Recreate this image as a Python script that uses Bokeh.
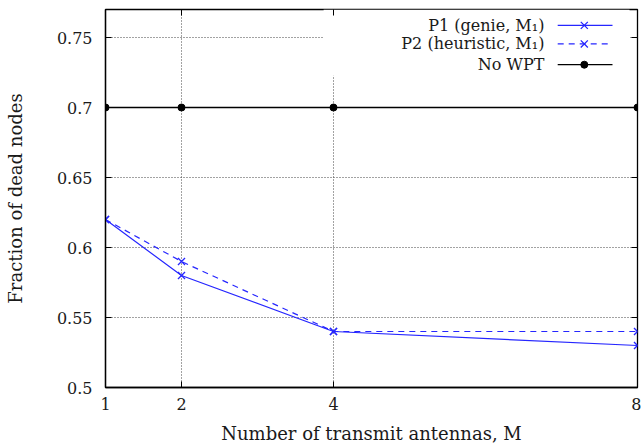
from bokeh.plotting import figure
from bokeh.models import Range1d, FixedTicker, LinearAxis
from bokeh.embed import file_html
from bokeh.resources import INLINE
from bokeh.core.properties import value

# ---- data ----
antennas = [1, 2, 4, 8]
p1_genie = [0.62, 0.58, 0.54, 0.53]
p2_heuristic = [0.62, 0.59, 0.54, 0.54]
no_wpt = [0.70, 0.70, 0.70, 0.70]

x_ticks = [1, 2, 4, 8]
x_tick_labels = ["1", "2", "4", "8"]
y_ticks = [0.5, 0.55, 0.6, 0.65, 0.7, 0.75]
y_tick_labels = ["0.5", "0.55", "0.6", "0.65", "0.7", "0.75"]
legend_labels = ["P1 (genie, M\u2081)", "P2 (heuristic, M\u2081)", "No WPT"]

FONT = "DejaVu Serif"
BLUE = "#2626ff"
TXT = "#1a1a1a"

p = figure(width=641, height=447, x_range=Range1d(1, 8), y_range=Range1d(0.5, 0.77),
           output_backend="svg", toolbar_location=None,
           min_border_left=105, min_border_right=4, min_border_top=9, min_border_bottom=60)

p.background_fill_color = "white"
p.border_fill_color = "white"
p.outline_line_color = "black"
p.outline_line_width = 1.3

for ax in (p.xaxis, p.yaxis):
    ax.axis_line_color = "black"
    ax.axis_line_width = 1.3
    ax.major_tick_in = 6
    ax.major_tick_out = 0
    ax.major_tick_line_color = "black"
    ax.minor_tick_line_color = None
    ax.major_label_text_font = FONT
    ax.major_label_text_font_size = "16px"
    ax.major_label_text_color = TXT
    ax.axis_label_text_font = FONT
    ax.axis_label_text_font_style = "normal"
    ax.axis_label_text_font_size = "18px"
    ax.axis_label_text_color = TXT

p.xaxis.ticker = FixedTicker(ticks=x_ticks)
p.xaxis.major_label_overrides = dict(zip(x_ticks, x_tick_labels))
p.yaxis.ticker = FixedTicker(ticks=y_ticks)
p.yaxis.major_label_overrides = dict(zip(y_ticks, y_tick_labels))
p.xaxis.axis_label = "Number of transmit antennas, M"
p.yaxis.axis_label = "Fraction of dead nodes"
p.xaxis.major_label_standoff = 10
p.xaxis.axis_label_standoff = 10
p.yaxis.major_label_standoff = 13
p.yaxis.axis_label_standoff = 28

# mirrored inward ticks on the top and right edges (no labels)
for side, ticks in (("above", x_ticks), ("right", y_ticks)):
    mirror = LinearAxis(ticker=FixedTicker(ticks=ticks),
                        major_label_overrides={t: "" for t in ticks},
                        major_label_text_font_size="0px", major_label_standoff=0,
                        axis_line_color=None, major_tick_in=6, major_tick_out=0,
                        major_tick_line_color="black", minor_tick_line_color=None)
    p.add_layout(mirror, side)

for g in (p.xgrid, p.ygrid):
    g.grid_line_color = "#444444"
    g.grid_line_dash = "1 2"
    g.grid_line_width = 1

# frame-fraction ranges for the legend layout (0..1 across, 0 at top)
p.extra_x_ranges = {"fx": Range1d(0, 1)}
p.extra_y_ranges = {"fy": Range1d(1, 0)}

# legend background box (opaque, covers grid)
p.quad(left=[0.41], right=[0.985], top=[0.0], bottom=[0.175], fill_color="white",
       line_color=None, x_range_name="fx", y_range_name="fy")

# data series
p.line(antennas, no_wpt, line_color="black", line_width=1.3)
p.scatter(antennas, no_wpt, marker="circle", size=7, fill_color="black", line_color="black")

p.line(antennas, p2_heuristic, line_color=BLUE, line_width=1.2, line_dash="6 5")
p.scatter(antennas, p2_heuristic, marker="x", size=10, line_color=BLUE, line_width=1.3)

p.line(antennas, p1_genie, line_color=BLUE, line_width=1.2)
p.scatter(antennas, p1_genie, marker="x", size=10, line_color=BLUE, line_width=1.3)

# legend
rows = [0.042, 0.091, 0.146]
lx0, lx1, lxm, ltx = 0.850, 0.953, 0.900, 0.825
p.text(x=[ltx] * 3, y=rows, text=legend_labels, x_range_name="fx", y_range_name="fy",
       text_align="right", text_baseline="middle", text_font=value(FONT),
       text_font_size="16px", text_color=TXT)
p.segment(x0=[lx0], x1=[lx1], y0=[rows[0]], y1=[rows[0]], line_color=BLUE, line_width=1.2,
          x_range_name="fx", y_range_name="fy")
p.scatter(x=[lxm], y=[rows[0]], marker="x", size=10, line_color=BLUE, line_width=1.3,
          x_range_name="fx", y_range_name="fy")
p.segment(x0=[lx0], x1=[lx1], y0=[rows[1]], y1=[rows[1]], line_color=BLUE, line_width=1.2,
          line_dash="6 5", x_range_name="fx", y_range_name="fy")
p.scatter(x=[lxm], y=[rows[1]], marker="x", size=10, line_color=BLUE, line_width=1.3,
          x_range_name="fx", y_range_name="fy")
p.segment(x0=[lx0], x1=[lx1], y0=[rows[2]], y1=[rows[2]], line_color="black", line_width=1.3,
          x_range_name="fx", y_range_name="fy")
p.scatter(x=[lxm], y=[rows[2]], marker="circle", size=7, fill_color="black", line_color="black",
          x_range_name="fx", y_range_name="fy")

open("out.html", "w").write(file_html(p, INLINE))
